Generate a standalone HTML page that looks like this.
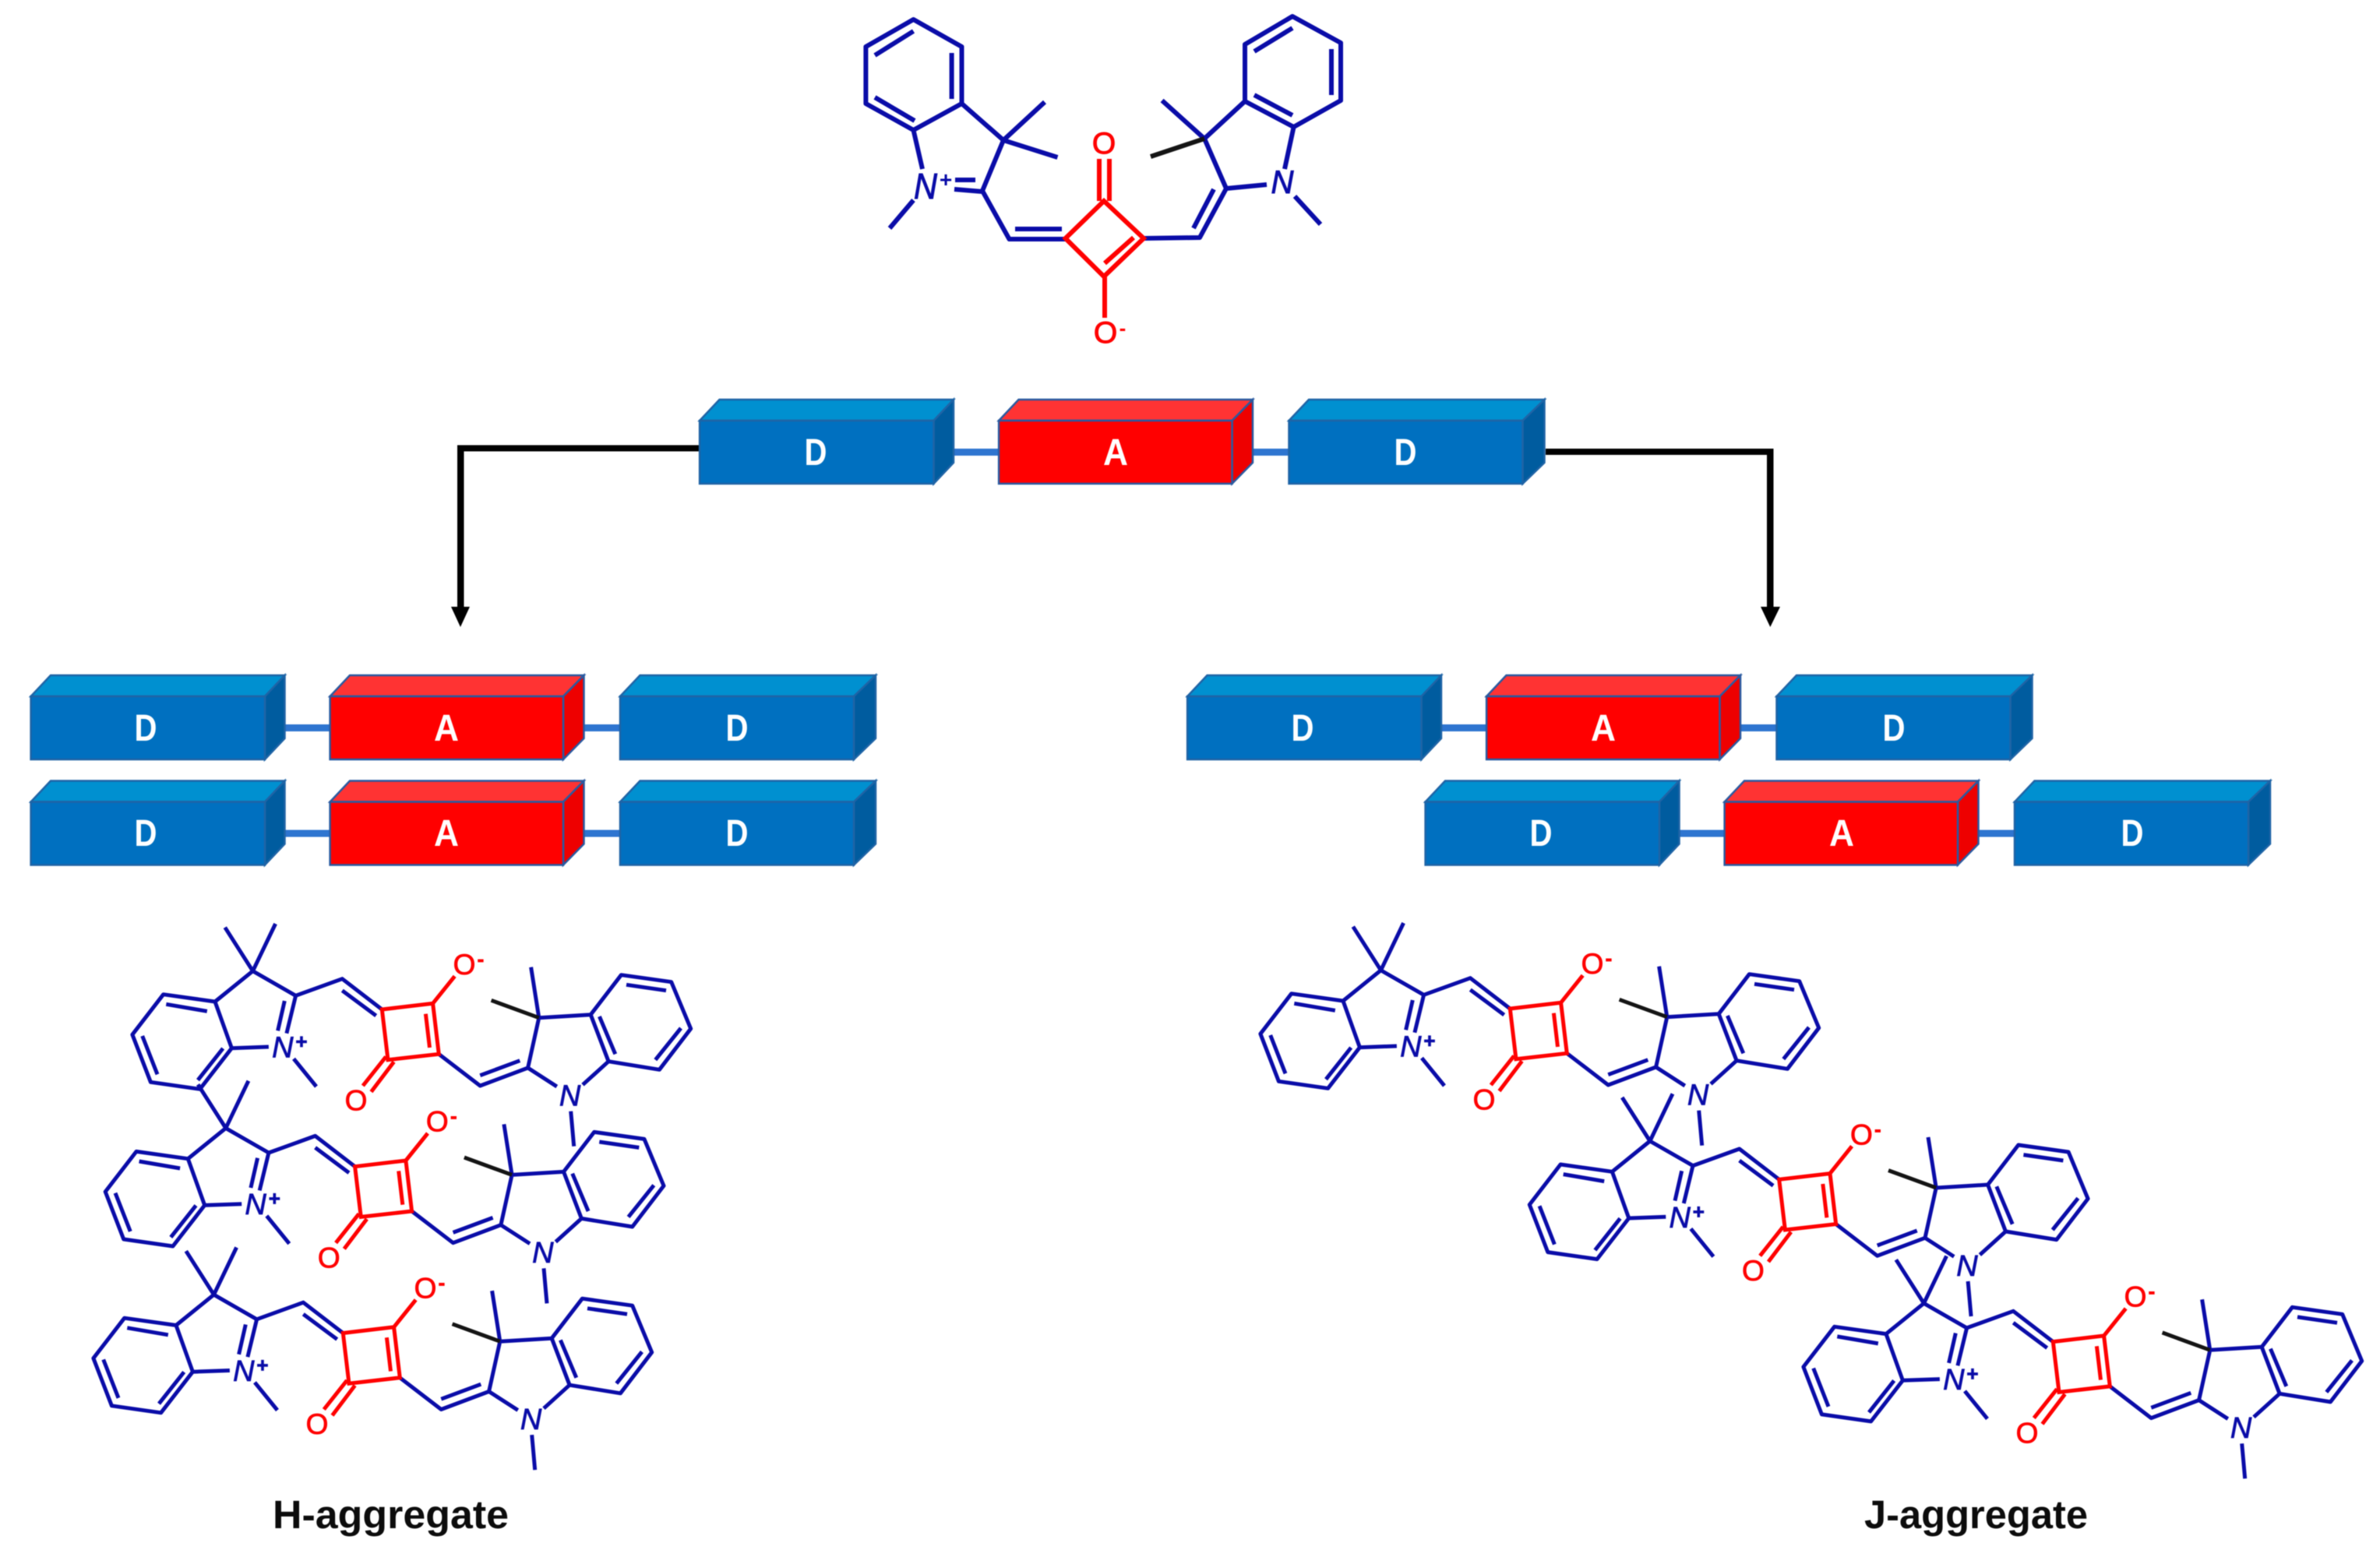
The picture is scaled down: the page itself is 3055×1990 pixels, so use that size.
<!DOCTYPE html>
<html>
<head>
<meta charset="utf-8">
<style>
html,body{margin:0;padding:0;background:#fff;}
svg{display:block;filter:blur(0.6px);}
text{font-family:"Liberation Sans",sans-serif;}
.b{fill:none;stroke:#0a0ca8;stroke-linejoin:round;stroke-linecap:butt;}
.r{fill:none;stroke:#ff0000;stroke-linejoin:miter;}
.k{fill:none;stroke:#141414;}
.na{font-size:38px;font-style:italic;fill:#0a0ca8;stroke:#0a0ca8;stroke-width:.8px;text-anchor:middle;}
.oa{font-size:37px;fill:#ff0000;stroke:#ff0000;stroke-width:.8px;text-anchor:middle;}
.sa{font-size:26px;font-weight:bold;font-style:normal;}
.bx{font-size:48px;font-weight:bold;fill:#fff;text-anchor:middle;}
.cap{font-size:51px;font-weight:bold;fill:#0c0c0c;}
</style>
</head>
<body>
<svg width="3055" height="1990" viewBox="0 0 3055 1990" xmlns="http://www.w3.org/2000/svg">
<defs>
  <g id="row">
    <rect x="320" y="63" width="110" height="9" fill="#2e75d0"/>
    <rect x="700" y="63" width="100" height="9" fill="#2e75d0"/>
    <g stroke="#1f64a6" stroke-width="2.5">
      <polygon points="39.6,27 65,0 365.5,0 340,27" fill="#0090d0"/>
      <polygon points="340,27 365.5,0 365.5,81 340,108" fill="#005c9f"/>
      <rect x="39.6" y="27" width="300.4" height="81" fill="#0070c0"/>
      <polygon points="796,27 821.5,0 1124,0 1096,27" fill="#0090d0"/>
      <polygon points="1096,27 1124,0 1124,81 1096,108" fill="#005c9f"/>
      <rect x="796" y="27" width="300" height="81" fill="#0070c0"/>
    </g>
    <g stroke="#2a5aa0" stroke-width="2.5">
      <polygon points="423.6,27 449,0 749.5,0 723,27" fill="#ff3333"/>
      <polygon points="723,27 749.5,0 749.5,81 723,108" fill="#ee0000"/>
      <rect x="423.6" y="27" width="299.4" height="81" fill="#ff0000"/>
    </g>
  </g>

  <g id="mol">
    <path class="b" stroke-width="5" d="M288.8,1190.7L324.5,1246.7L353.6,1186
      M324.5,1246.7L276,1286
      M276,1286L209.7,1276.7L169.9,1328.3L193.4,1389.3L256.6,1398.3L297.4,1345.7Z
      M213.3,1289.3L265.8,1298.3M182.7,1330L202,1379.3M254,1386.7L286.2,1346
      M324.5,1246.7L379.6,1278.3L367.9,1326.7M365.3,1285L356.6,1323.3
      M297.4,1345.7L344.9,1344
      M377,1359.3L406,1395
      M379.6,1278.3L439.3,1256.7L490.3,1296M439.3,1271.7L482.7,1304
      M563.3,1353.3L616.3,1394L677.6,1371M616.3,1380.7L667.3,1361.7
      M677.6,1371L691.8,1306.7L681.6,1241.7
      M691.8,1306.7L758.2,1302.7
      M758.2,1302.7L797.4,1251.7L861.7,1260.7L886.7,1320.7L846.4,1373.3L781.1,1362.7Z
      M804,1264.3L855,1271.7M874,1320L841.3,1360.7M769.4,1305L789.8,1353.3
      M677.6,1371L714.8,1395M781.1,1362.7L748,1392.7
      M732.7,1426.7L736.7,1471.7"/>
    <path class="k" stroke-width="5" d="M630.6,1284.3L691.8,1306.7"/>
    <path class="r" stroke-width="5" d="M490.3,1296L555.6,1288.3L563.3,1353.3L498,1360.7Z
      M546.4,1301.7L551.5,1345
      M555.6,1288.3L583.7,1253.3
      M495.4,1356.7L465.8,1394M505.6,1363.3L476.5,1401.7"/>
  </g>
</defs>

<rect width="3055" height="1990" fill="#fff"/>

<!-- Top molecule -->
<path class="b" stroke-width="6" d="M1172.5,25L1234.5,60L1234.5,133L1172.5,167L1111.4,133L1111.4,60Z
  M1123,71L1172.5,40M1221.6,68L1221.6,127M1123,125L1174,155
  M1234.5,133L1288,180L1261,245
  M1341,131L1288,180L1357.5,202
  M1172.5,167L1184,217
  M1225,243L1261,246M1226,231L1252,231
  M1172.5,257L1142,293
  M1261,245L1295.5,307L1367.6,307M1303,294L1363,294
  M1468,306L1540,305L1574,242M1532,293L1558,243
  M1574,242L1626,237
  M1649,217L1660.6,163
  M1662,252L1695,288
  M1574,242L1546,178L1491.6,129
  M1546,178L1598,130
  M1659,21L1721,55L1721,129L1660.6,163L1598,130L1598,57Z
  M1610,66L1659,36M1709,63L1709,122M1610,122L1659,148"/>
<path class="k" stroke-width="6" d="M1477,201L1546,178"/>
<path class="r" stroke-width="6" d="M1417,258L1468,306L1417,355L1367.6,306Z
  M1455,305L1418,338
  M1411,204L1411,258M1424,204L1424,258
  M1418,355L1418,408"/>
<text x="1188" y="255" font-size="46" font-style="italic" fill="#0a0ca8" stroke="#0a0ca8" stroke-width="1" text-anchor="middle" textLength="30" lengthAdjust="spacingAndGlyphs">N</text>
<text x="1214" y="240" font-size="28" font-weight="bold" fill="#0a0ca8" text-anchor="middle">+</text>
<text x="1646" y="248" font-size="42" font-style="italic" fill="#0a0ca8" stroke="#0a0ca8" stroke-width="1" text-anchor="middle" textLength="29" lengthAdjust="spacingAndGlyphs">N</text>
<text x="1417" y="197" font-size="39" fill="#ff0000" stroke="#ff0000" stroke-width="1" text-anchor="middle">O</text>
<text x="1419" y="440" font-size="39" fill="#ff0000" stroke="#ff0000" stroke-width="1" text-anchor="middle">O</text>
<text x="1441" y="430" font-size="26" font-weight="bold" fill="#ff0000" text-anchor="middle">-</text>

<!-- Arrows -->
<g fill="#000">
  <rect x="587" y="571.5" width="310" height="8"/>
  <rect x="587" y="571.5" width="8.5" height="210"/>
  <polygon points="579,779 603,779 591,805"/>
  <rect x="1984" y="576" width="292.5" height="8"/>
  <rect x="2268" y="576" width="8.5" height="205"/>
  <polygon points="2260,779 2285,779 2272.3,805"/>
</g>

<!-- Box rows -->
<use href="#row" transform="translate(858.5,513)"/>
<text class="bx" x="1047" y="597" textLength="29" lengthAdjust="spacingAndGlyphs">D</text>
<text class="bx" x="1432" y="597" textLength="32" lengthAdjust="spacingAndGlyphs">A</text>
<text class="bx" x="1804" y="597" textLength="29" lengthAdjust="spacingAndGlyphs">D</text>

<use href="#row" transform="translate(0,867)"/>
<text class="bx" x="187" y="951" textLength="29" lengthAdjust="spacingAndGlyphs">D</text>
<text class="bx" x="573" y="951" textLength="32" lengthAdjust="spacingAndGlyphs">A</text>
<text class="bx" x="946" y="951" textLength="29" lengthAdjust="spacingAndGlyphs">D</text>

<use href="#row" transform="translate(0,1002.5)"/>
<text class="bx" x="187" y="1086" textLength="29" lengthAdjust="spacingAndGlyphs">D</text>
<text class="bx" x="573" y="1086" textLength="32" lengthAdjust="spacingAndGlyphs">A</text>
<text class="bx" x="946" y="1086" textLength="29" lengthAdjust="spacingAndGlyphs">D</text>

<use href="#row" transform="translate(1484.5,867)"/>
<text class="bx" x="1672" y="951" textLength="29" lengthAdjust="spacingAndGlyphs">D</text>
<text class="bx" x="2058" y="951" textLength="32" lengthAdjust="spacingAndGlyphs">A</text>
<text class="bx" x="2431" y="951" textLength="29" lengthAdjust="spacingAndGlyphs">D</text>

<use href="#row" transform="translate(1790,1002.5)"/>
<text class="bx" x="1978" y="1086" textLength="29" lengthAdjust="spacingAndGlyphs">D</text>
<text class="bx" x="2364" y="1086" textLength="32" lengthAdjust="spacingAndGlyphs">A</text>
<text class="bx" x="2737" y="1086" textLength="29" lengthAdjust="spacingAndGlyphs">D</text>

<!-- H aggregate molecules -->
<g>
  <use href="#mol"/>
  <text class="na" x="362.8" y="1357.5">N</text>
  <text class="na sa" x="387" y="1346">+</text>
  <text class="oa" x="596" y="1251">O</text>
  <text class="oa sa" x="617" y="1240">-</text>
  <text class="oa" x="457" y="1425.7">O</text>
  <text class="na" x="731.6" y="1419.5">N</text>
</g>
<g transform="translate(-34.7,201.7)">
  <use href="#mol"/>
  <text class="na" x="362.8" y="1357.5">N</text>
  <text class="na sa" x="387" y="1346">+</text>
  <text class="oa" x="596" y="1251">O</text>
  <text class="oa sa" x="617" y="1240">-</text>
  <text class="oa" x="457" y="1425.7">O</text>
  <text class="na" x="731.6" y="1419.5">N</text>
</g>
<g transform="translate(-50,415.5)">
  <use href="#mol"/>
  <text class="na" x="362.8" y="1357.5">N</text>
  <text class="na sa" x="387" y="1346">+</text>
  <text class="oa" x="596" y="1251">O</text>
  <text class="oa sa" x="617" y="1240">-</text>
  <text class="oa" x="457" y="1425.7">O</text>
  <text class="na" x="731.6" y="1419.5">N</text>
</g>

<!-- J aggregate molecules -->
<g transform="translate(1448,-1)">
  <use href="#mol"/>
  <text class="na" x="362.8" y="1357.5">N</text>
  <text class="na sa" x="387" y="1346">+</text>
  <text class="oa" x="596" y="1251">O</text>
  <text class="oa sa" x="617" y="1240">-</text>
  <text class="oa" x="457" y="1425.7">O</text>
  <text class="na" x="731.6" y="1419.5">N</text>
</g>
<g transform="translate(1793.4,218.3)">
  <use href="#mol"/>
  <text class="na" x="362.8" y="1357.5">N</text>
  <text class="na sa" x="387" y="1346">+</text>
  <text class="oa" x="596" y="1251">O</text>
  <text class="oa sa" x="617" y="1240">-</text>
  <text class="oa" x="457" y="1425.7">O</text>
  <text class="na" x="731.6" y="1419.5">N</text>
</g>
<g transform="translate(2145,426.6)">
  <use href="#mol"/>
  <text class="na" x="362.8" y="1357.5">N</text>
  <text class="na sa" x="387" y="1346">+</text>
  <text class="oa" x="596" y="1251">O</text>
  <text class="oa sa" x="617" y="1240">-</text>
  <text class="oa" x="457" y="1425.7">O</text>
  <text class="na" x="731.6" y="1419.5">N</text>
</g>

<!-- Captions -->
<text class="cap" x="350" y="1962" textLength="303" lengthAdjust="spacingAndGlyphs">H-aggregate</text>
<text class="cap" x="2393" y="1962" textLength="287" lengthAdjust="spacingAndGlyphs">J-aggregate</text>
</svg>
</body>
</html>
